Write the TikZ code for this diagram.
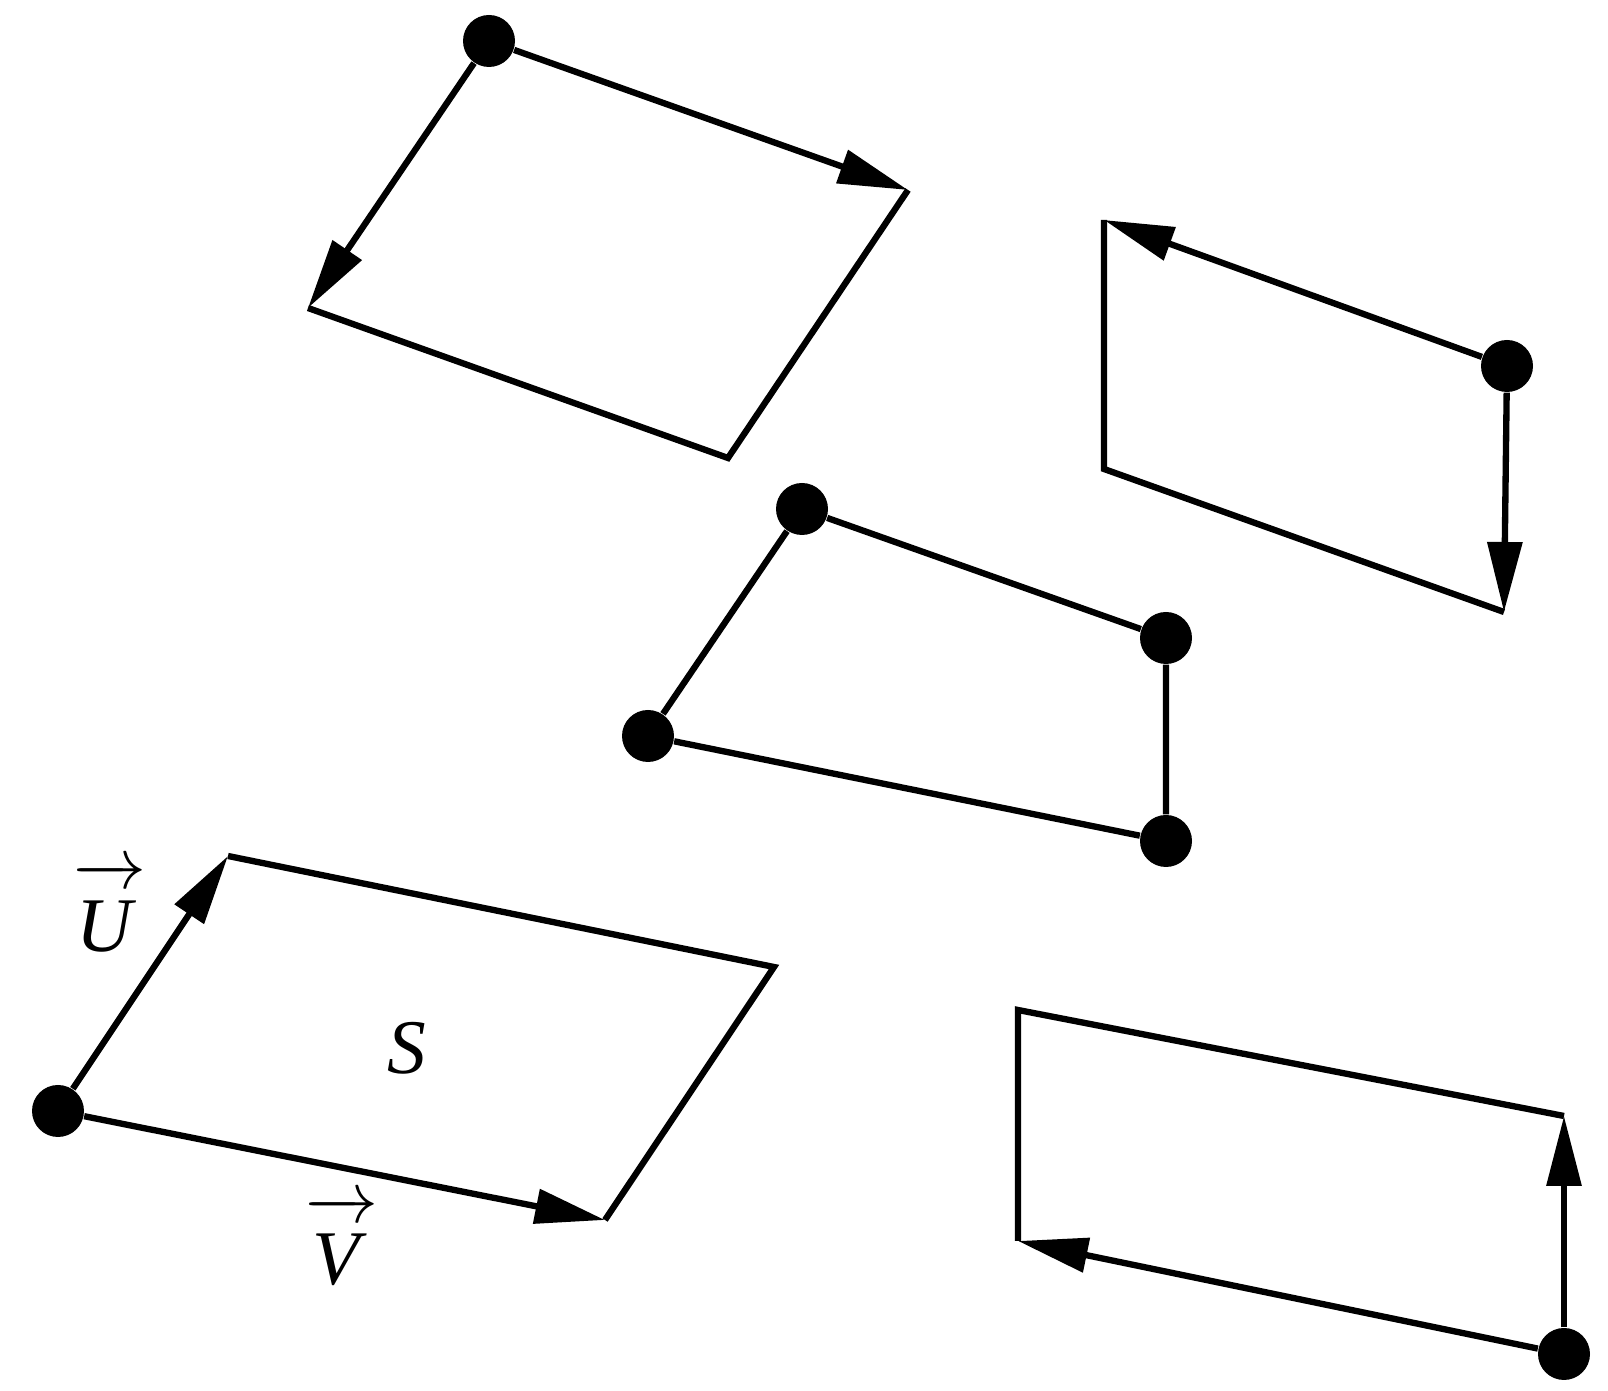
\documentclass[tikz,border=0pt]{standalone}
\usepackage{fontspec}
\setmainfont{Liberation Serif}
\usetikzlibrary{arrows.meta}

\tikzset{
	punto/.style={circle, fill=black, inner sep=0pt, minimum size=5.2mm},
	lato/.style={line width=1.8pt, line join=miter},
	freccia/.style={lato, -{Triangle[length=7mm, width=3.4mm]}},
	etichetta/.style={font=\fontsize{22}{26}\selectfont}
}

\begin{document}
\begin{tikzpicture}[x=0.1mm, y=-0.1mm]
		
		\useasboundingbox (0,0) rectangle (1608,1391);
		
		%Disegno il primo parallelogramma (in alto a sinistra)
		\node (primoPunto) at (489,41) [punto]{};
		\coordinate (primoDestra) at (908,190);
		\coordinate (primoSinistra) at (308,308);
		\coordinate (primoBasso) at (728,458);
		
		%Disegno i collegamenti
		\draw[freccia] (primoPunto) -- (primoDestra);
		
		\draw[freccia] (primoPunto) -- (primoSinistra);
		
		\draw[lato] (primoSinistra) -- (primoBasso) -- (primoDestra);
		
		
		%Disegno il secondo parallelogramma (in alto a destra)
		\node (secondoPunto) at (1507,366) [punto]{};
		\coordinate (secondoAlto) at (1104,220);
		\coordinate (secondoBasso) at (1504,612);
		\coordinate (secondoSinistra) at (1104,469);
		
		%Disegno i collegamenti
		\draw[freccia] (secondoPunto) -- (secondoAlto);
		
		\draw[freccia] (secondoPunto) -- (secondoBasso);
		
		\draw[lato] (secondoAlto) -- (secondoSinistra) -- (secondoBasso);
		
		
		%Disegno il quadrilatero centrale
		\node (terzoAlto) at (802,509) [punto]{};
		\node (terzoDestra) at (1166,638) [punto]{};
		\node (terzoSinistra) at (648,736) [punto]{};
		\node (terzoBasso) at (1166,841) [punto]{};
		
		%Disegno i collegamenti
		\draw[lato] (terzoAlto) -- (terzoDestra) -- (terzoBasso) -- (terzoSinistra) -- (terzoAlto);
		
		
		%Disegno il parallelogramma S con i vettori U e V
		\node (quartoPunto) at (58,1111) [punto]{};
		\coordinate (quartoU) at (228,856);
		\coordinate (quartoV) at (605,1220);
		\coordinate (quartoAngolo) at (774,967);
		
		%Disegno i collegamenti
		\draw[freccia] (quartoPunto) -- (quartoU);
		
		\draw[freccia] (quartoPunto) -- (quartoV);
		
		\draw[lato] (quartoU) -- (quartoAngolo) -- (quartoV);
		
		%Etichette
		\node (etichettaU) at (110,907) [etichetta]{$\overrightarrow{\rule{0pt}{0.85em}\textit{U}\,}$};
		
		\node (etichettaV) at (342,1241) [etichetta]{$\overrightarrow{\rule{0pt}{0.85em}\textit{V}\,}$};
		
		\node (etichettaS) at (407,1048) [etichetta]{\textit{S}};
		
		
		%Disegno l'ultimo parallelogramma (in basso a destra)
		\node (quintoPunto) at (1564,1354) [punto]{};
		\coordinate (quintoAlto) at (1564,1116);
		\coordinate (quintoSinistra) at (1018,1241);
		\coordinate (quintoAngolo) at (1018,1010);
		
		%Disegno i collegamenti
		\draw[freccia] (quintoPunto) -- (quintoAlto);
		
		\draw[freccia] (quintoPunto) -- (quintoSinistra);
		
		\draw[lato] (quintoAlto) -- (quintoAngolo) -- (quintoSinistra);
		
\end{tikzpicture}
\end{document}
